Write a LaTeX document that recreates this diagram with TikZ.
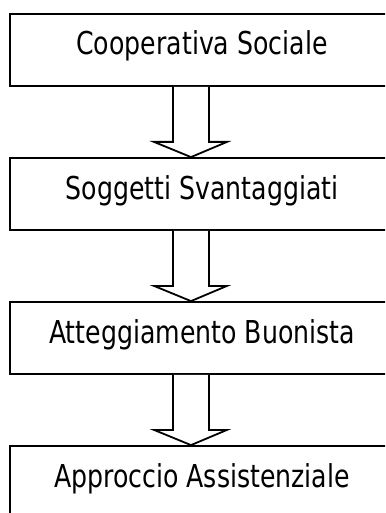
\documentclass[tikz,border=0pt]{standalone}
\usepackage{fontspec}
\setmainfont{DejaVu Sans}[FakeStretch=0.8]
\usetikzlibrary{calc}
\begin{document}
\begin{tikzpicture}[x=1pt,y=1pt,
  box/.style={draw=black, line width=1.8pt, minimum width=384pt, minimum height=72pt,
    inner sep=0pt, text height=24pt, text depth=14pt, font=\fontsize{31.5}{36}\selectfont},
  blockarrow/.style={draw=black, line width=1.8pt, fill=white, line join=miter}]
\useasboundingbox (0,0) rectangle (385,-513);
\clip (0,0) rectangle (385,-513);
\node[box] (b1) at (202,-50) {Cooperativa Sociale};
\node[box] (b2) at (202,-194) {Soggetti Svantaggiati};
\node[box] (b3) at (202,-338) {Atteggiamento Buonista};
\node[box] (b4) at (202,-482) {Approccio Assistenziale};
\foreach \a/\b in {b1/b2, b2/b3, b3/b4}{
  \draw[blockarrow] ($(\a.south)+(-29,0)$) -- ($(\a.south)+(-29,-55)$)
    -- ($(\a.south)+(-48,-55)$) -- ($(\b.north)+(-11,0)$)
    -- ($(\a.south)+(25,-55)$) -- ($(\a.south)+(7,-55)$)
    -- ($(\a.south)+(7,0)$);
}
\end{tikzpicture}
\end{document}
